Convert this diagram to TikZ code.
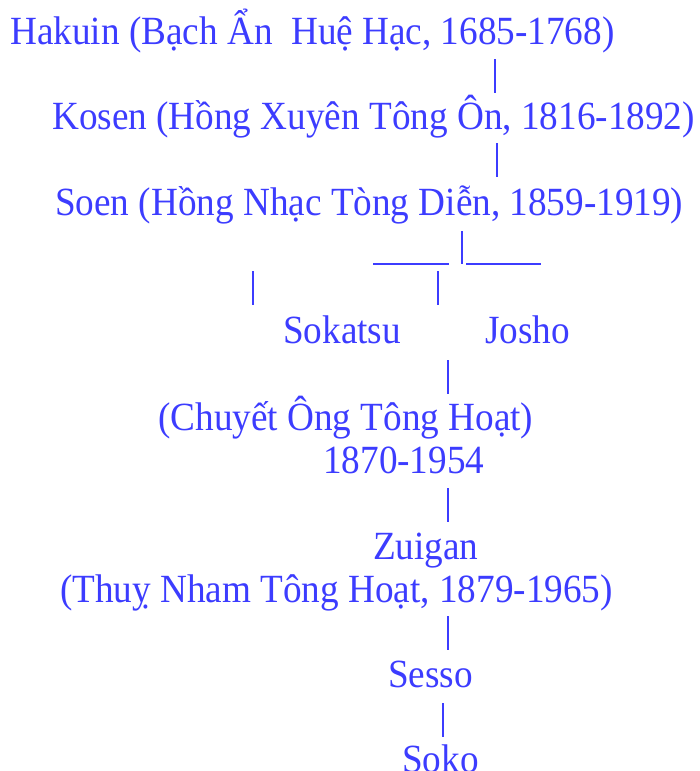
\documentclass[tikz,border=0pt]{standalone}
\usepackage{fontspec}
\setmainfont{Liberation Serif}[FakeStretch=0.93]
\definecolor{lineblue}{RGB}{60,60,255}

\begin{document}
\begin{tikzpicture}[x=1pt,y=-1pt,
  person/.style={anchor=base west,inner sep=0pt,text=lineblue,font=\fontsize{40}{46}\selectfont},
  bar/.style={draw=lineblue,line width=1.8pt}]
 \useasboundingbox (0,0) rectangle (700,771);
 \node[person] (hakuin) at (10,44) {Hakuin (Bạch Ẩn~ Huệ Hạc, 1685-1768)};
 \node[person] (kosen) at (52,129) {Kosen (Hồng Xuyên Tông Ôn, 1816-1892)};
 \node[person] (soen) at (55,215) {Soen (Hồng Nhạc Tòng Diễn, 1859-1919)};
 \node[person] (sokatsu) at (283,343) {Sokatsu};
 \node[person] (josho) at (485,343) {Josho};
 \node[person] (chuyet) at (158,430) {(Chuyết Ông Tông Hoạt)};
 \node[person] (chuyet_y) at (323,473) {1870-1954};
 \node[person] (zuigan) at (373,559) {Zuigan};
 \node[person] (zuigan_n) at (60,602) {(Thuỵ Nham Tông Hoạt, 1879-1965)};
 \node[person] (sesso) at (388,687) {Sesso};
 \node[person] (soko) at (402,772) {Soko};
 % vertical bars
 \foreach \x/\ya/\yb in {495/59/93, 497/143/177, 462/231/264, 253/271/305,
   438/271/305, 448/360/394, 448/488/522, 448/616/650, 443/703/737}
   \draw[bar] (\x,\ya) -- (\x,\yb);
 % branch line
 \draw[bar] (373,264) -- (449,264) (466,264) -- (541,264);
\end{tikzpicture}
\end{document}
